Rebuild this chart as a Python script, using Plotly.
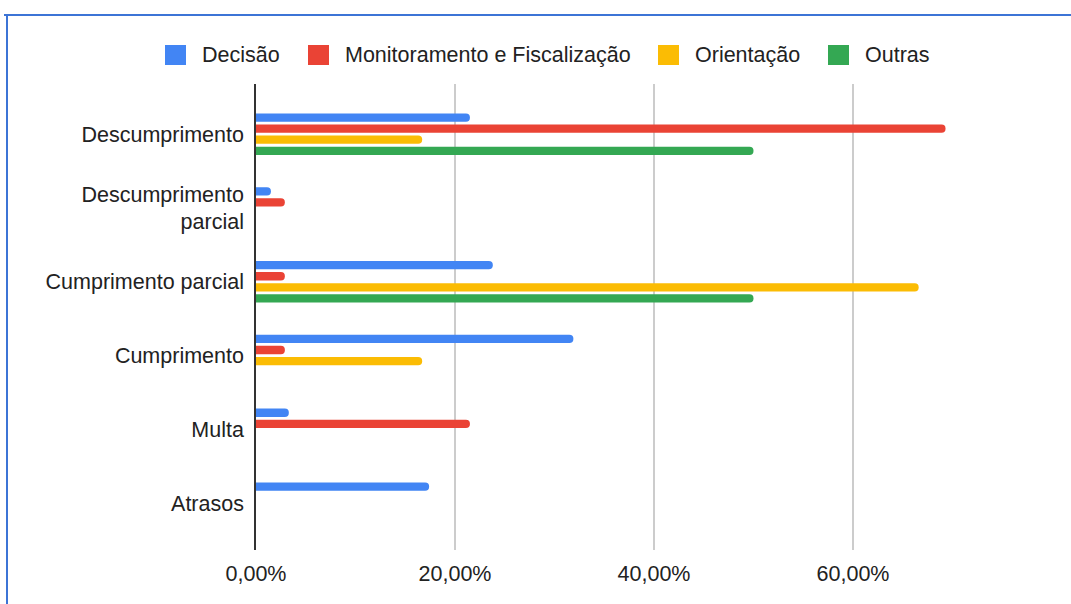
import plotly.graph_objects as go

categories = ["Descumprimento", "Descumprimento<br>parcial", "Cumprimento parcial",
              "Cumprimento", "Multa", "Atrasos"]
decisao = [21.5, 1.5, 23.8, 31.9, 3.3, 17.4]
monitoramento = [69.3, 2.9, 2.9, 2.9, 21.5, None]
orientacao = [16.7, None, 66.6, 16.7, None, None]
outras = [50.0, None, 50.0, None, None, None]

series_names = ["Decisão", "Monitoramento e Fiscalização", "Orientação", "Outras"]
series_values = [decisao, monitoramento, orientacao, outras]
series_colors = ["#4285F4", "#EA4335", "#FBBC04", "#34A853"]
tick_vals = [0, 20, 40, 60, 80]
tick_text = ["0,00%", "20,00%", "40,00%", "60,00%", ""]

FONT = "Liberation Sans, Arial, sans-serif"
FS = 21.5
TXT = "#222222"

# layout geometry (pixels)
W, H = 1071, 604
L, R, T, B = 256, 19, 84, 54
PW, PH = W - L - R, H - T - B


def px_x(p):
    return (p - L) / PW


def px_y(p):
    return (H - B - p) / PH


fig = go.Figure()
for name, vals, color in zip(series_names, series_values, series_colors):
    fig.add_trace(go.Bar(
        y=categories, x=vals, name=name, orientation="h",
        marker=dict(color=color, cornerradius=4, line=dict(width=0)),
        showlegend=False,
    ))

fig.update_layout(
    width=W, height=H,
    paper_bgcolor="white", plot_bgcolor="white",
    margin=dict(l=L, r=R, t=T, b=B),
    barmode="group", bargap=0.4, bargroupgap=0.25,
    font=dict(family=FONT, size=FS, color=TXT),
    showlegend=False,
    xaxis=dict(range=[0, 80], tickvals=tick_vals, ticktext=tick_text,
               showgrid=True, gridcolor="#cccccc", gridwidth=1.5, zeroline=False,
               showline=False, ticks="outside", ticklen=4, tickcolor="rgba(0,0,0,0)",
               tickfont=dict(size=FS, color=TXT)),
    yaxis=dict(type="category", range=[5.635, -0.68], showgrid=False,
               showline=True, linecolor="#333333", linewidth=1.5,
               ticks="outside", ticklen=6, tickcolor="rgba(0,0,0,0)",
               tickfont=dict(size=FS, color=TXT)),
)

# custom legend (swatches + labels)
legend_swatch_x = [165, 308, 658, 828]
legend_text_x = [201, 344, 694, 864]
for name, color, sx, tx in zip(series_names, series_colors, legend_swatch_x, legend_text_x):
    fig.add_shape(type="rect", xref="paper", yref="paper",
                  x0=px_x(sx), x1=px_x(sx + 21), y0=px_y(65), y1=px_y(45),
                  fillcolor=color, line=dict(width=0))
    fig.add_annotation(x=px_x(tx - 1), y=px_y(55), xref="paper", yref="paper",
                       text=name, showarrow=False, xanchor="left", yanchor="middle",
                       font=dict(family=FONT, size=FS, color=TXT))

# blue frame
fig.add_shape(type="line", xref="paper", yref="paper", x0=px_x(4), x1=px_x(1075),
              y0=px_y(15), y1=px_y(15), line=dict(color="#3c74d6", width=2))
fig.add_shape(type="line", xref="paper", yref="paper", x0=px_x(7), x1=px_x(7),
              y0=px_y(15), y1=px_y(610), line=dict(color="#3c74d6", width=2))

fig.write_html("out.html", config={"displayModeBar": False},
               post_script="document.body.style.margin='0';")
